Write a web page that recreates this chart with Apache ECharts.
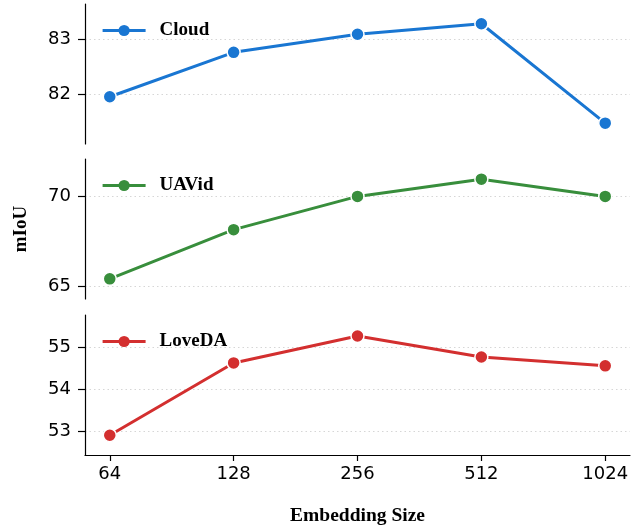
<!DOCTYPE html>
<html>
<head>
<meta charset="utf-8">
<script src="https://cdn.jsdelivr.net/npm/echarts@6/dist/echarts.min.js"></script>
<style>html,body{margin:0;padding:0;background:#fff}#c{width:644px;height:529px}</style>
</head>
<body>
<div id="c"></div>
<script>
var categories = ['64', '128', '256', '512', '1024'];
var seriesNames = ['Cloud', 'UAVid', 'LoveDA'];
var cloudValues = [81.95, 82.76, 83.09, 83.28, 81.47];
var uavidValues = [65.43, 68.14, 69.97, 70.92, 69.97];
var lovedaValues = [52.90, 54.62, 55.26, 54.76, 54.55];
var cloudTicks = [82, 83];
var uavidTicks = [65, 70];
var lovedaTicks = [53, 54, 55];
var yRanges = [[81.09, 83.64], [64.32, 72.03], [52.43, 55.76]];
var colors = ['#1976D2', '#388E3C', '#D32F2F'];

var allValues = [cloudValues, uavidValues, lovedaValues];
var allTicks = [cloudTicks, uavidTicks, lovedaTicks];
var catIdx = categories.map(function (c, i) { return i; });

var grids = [
  { left: 85, right: 14, top: 4, height: 140 },
  { left: 85, right: 14, top: 159, height: 140 },
  { left: 85, right: 14, top: 315, height: 140 }
];
var legendTops = [21, 176, 332];

var xAxes = [], yAxes = [], series = [], legends = [];
for (var g = 0; g < 3; g++) {
  var isBottom = g === 2;
  xAxes.push({
    type: 'value', gridIndex: g, min: -0.2, max: 4.2,
    show: true,
    axisLine: { show: isBottom, onZero: false, lineStyle: { color: '#000', width: 1.2 } },
    axisTick: { show: isBottom, length: 6, customValues: catIdx, lineStyle: { color: '#000', width: 1.2 } },
    axisLabel: {
      show: isBottom, customValues: catIdx, margin: 10,
      fontFamily: 'DejaVu Sans', fontSize: 18, color: '#000',
      formatter: function (v) { return categories[Math.round(v)]; }
    },
    splitLine: { show: false },
    name: isBottom ? 'Embedding Size' : '',
    nameLocation: 'middle', nameGap: 51,
    nameTextStyle: { fontFamily: 'Liberation Serif', fontWeight: 'bold', fontSize: 19.5, color: '#000' }
  });
  yAxes.push({
    type: 'value', gridIndex: g, min: yRanges[g][0], max: yRanges[g][1],
    axisLine: { show: true, onZero: false, lineStyle: { color: '#000', width: 1.2 } },
    axisTick: { show: true, length: 7, customValues: allTicks[g], lineStyle: { color: '#000', width: 1.2 } },
    axisLabel: { customValues: allTicks[g], margin: 14, fontFamily: 'DejaVu Sans', fontSize: 18, color: '#000' },
    splitLine: { show: true, lineStyle: { color: '#d6d6d6', type: [1.5, 3], width: 1 } },
    name: g === 1 ? 'mIoU' : '',
    nameLocation: 'middle', nameGap: 54, nameRotate: 90,
    nameTextStyle: { fontFamily: 'Liberation Serif', fontWeight: 'bold', fontSize: 19, color: '#000' }
  });
  series.push({
    name: seriesNames[g], type: 'line', xAxisIndex: g, yAxisIndex: g,
    data: allValues[g].map(function (v, i) { return [i, v]; }),
    symbol: 'circle', symbolSize: 13,
    lineStyle: { color: colors[g], width: 3 },
    itemStyle: { color: colors[g], borderColor: '#fff', borderWidth: 1.5 },
    z: 3
  });
  legends.push({
    data: [seriesNames[g]], left: 101, top: legendTops[g], padding: 0,
    itemWidth: 43, itemHeight: 14, itemGap: 10,
    itemStyle: { borderWidth: 0 },
    lineStyle: { width: 3.2 },
    textStyle: { fontFamily: 'Liberation Serif', fontWeight: 'bold', fontSize: 19, color: '#000', padding: [0, 0, 0, 9] }
  });
}

var chart = echarts.init(document.getElementById('c'), null, { renderer: 'canvas' });
chart.setOption({
  animation: false,
  backgroundColor: '#fff',
  grid: grids,
  xAxis: xAxes,
  yAxis: yAxes,
  legend: legends,
  series: series
});
</script>
</body>
</html>
